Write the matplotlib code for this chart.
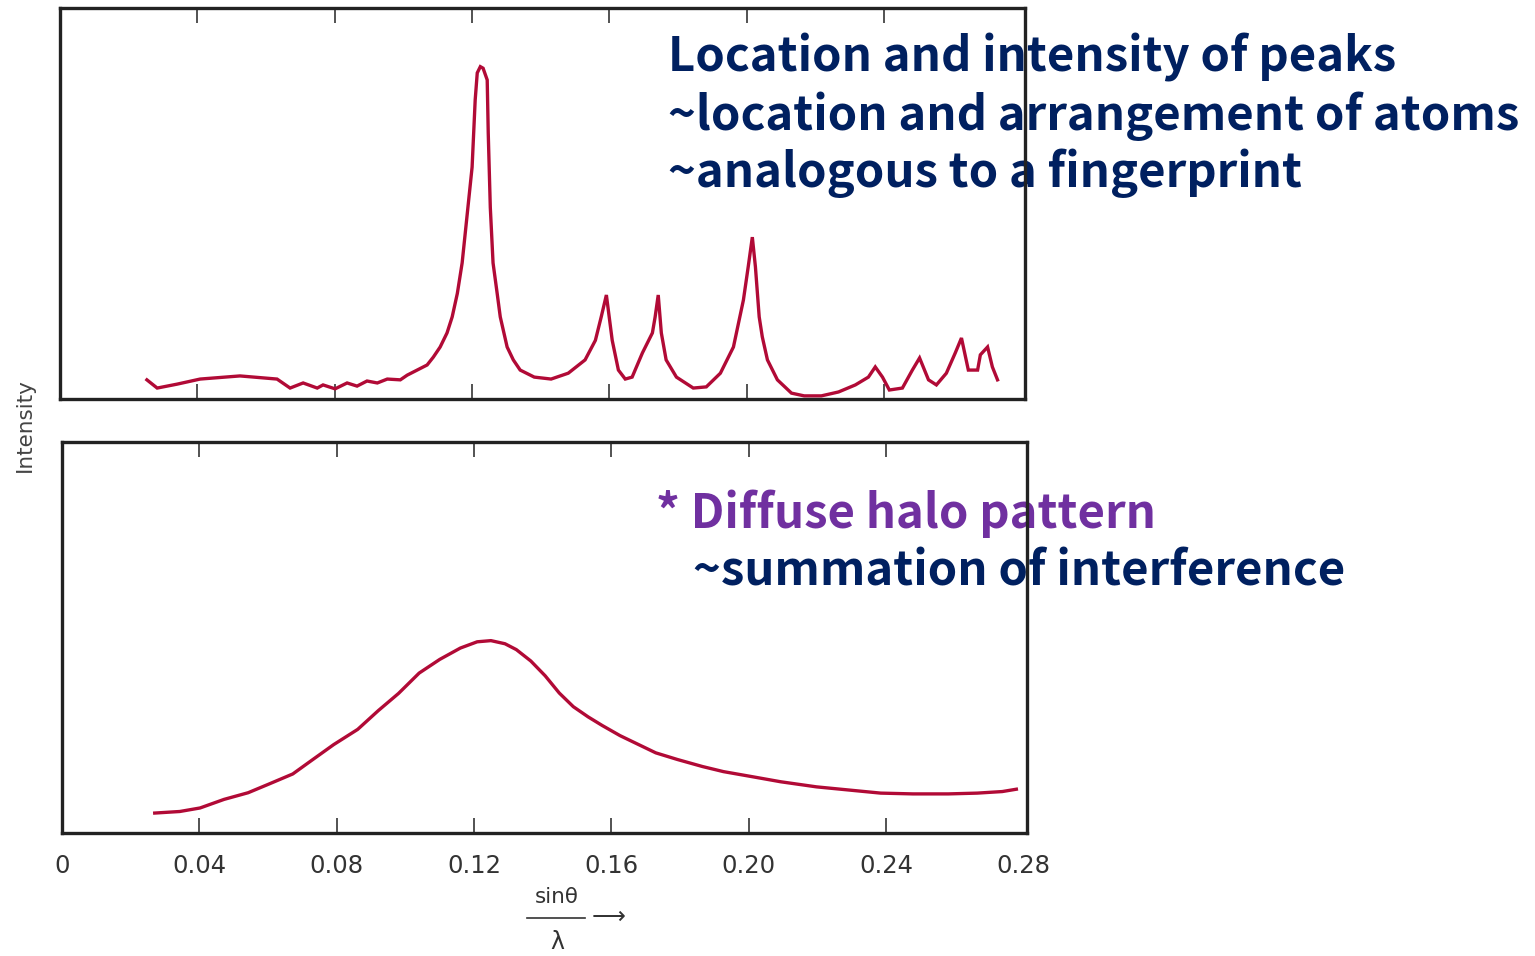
import numpy as np
import matplotlib.pyplot as plt
from matplotlib.lines import Line2D

# crystalline pattern (top panel), sin(theta)/lambda vs relative intensity
xtal_x = [0.0253, 0.0283, 0.0341, 0.0408, 0.0524, 0.0632, 0.0670, 0.0708, 0.0749, 0.0766,
          0.0801, 0.0836, 0.0865, 0.0894, 0.0924, 0.0953, 0.0991, 0.1011, 0.1040, 0.1069,
          0.1087, 0.1107, 0.1127, 0.1142, 0.1157, 0.1171, 0.1180, 0.1189, 0.1200, 0.1209,
          0.1215, 0.1224, 0.1232, 0.1244, 0.1247, 0.1253, 0.1261, 0.1273, 0.1282, 0.1302,
          0.1320, 0.1340, 0.1381, 0.1430, 0.1480, 0.1529, 0.1559, 0.1576, 0.1591, 0.1608,
          0.1626, 0.1646, 0.1666, 0.1696, 0.1725, 0.1733, 0.1742, 0.1751, 0.1765, 0.1795,
          0.1844, 0.1882, 0.1923, 0.1961, 0.1990, 0.2004, 0.2016, 0.2025, 0.2036, 0.2045,
          0.2060, 0.2089, 0.2130, 0.2167, 0.2217, 0.2267, 0.2316, 0.2354, 0.2374, 0.2395,
          0.2415, 0.2453, 0.2482, 0.2503, 0.2529, 0.2552, 0.2581, 0.2607, 0.2625, 0.2645,
          0.2672, 0.2680, 0.2701, 0.2715, 0.2730]
xtal_y = [4.9, 2.8, 3.8, 5.1, 5.9, 5.1, 2.8, 4.1, 2.8, 3.6,
          2.6, 4.1, 3.3, 4.6, 4.1, 5.1, 4.9, 6.1, 7.4, 8.7,
          10.7, 13.3, 16.9, 21.0, 27.0, 34.8, 42.4, 50.0, 59.3, 76.5,
          83.4, 85.0, 84.6, 81.6, 68.0, 49.0, 34.8, 27.0, 21.0, 13.3,
          10.0, 7.4, 5.6, 5.1, 6.6, 10.0, 15.0, 21.0, 26.6, 15.0,
          7.4, 5.1, 5.6, 11.8, 16.9, 21.0, 26.6, 16.9, 10.0, 5.6,
          2.8, 3.1, 6.6, 13.3, 25.3, 33.8, 41.4, 33.8, 21.0, 15.9,
          10.0, 4.9, 1.5, 0.8, 0.8, 1.8, 3.6, 5.6, 8.2, 5.6,
          2.3, 2.8, 7.4, 10.5, 4.9, 3.6, 6.6, 11.8, 15.6, 7.4,
          7.4, 11.3, 13.3, 8.2, 4.9]

# amorphous halo (bottom panel)
halo_x = [0.0270, 0.0343, 0.0402, 0.0472, 0.0542, 0.0602, 0.0672, 0.0721, 0.0791, 0.0861,
          0.0921, 0.0980, 0.1040, 0.1100, 0.1160, 0.1209, 0.1249, 0.1290, 0.1323, 0.1365,
          0.1407, 0.1448, 0.1489, 0.1532, 0.1573, 0.1625, 0.1677, 0.1729, 0.1792, 0.1865,
          0.1926, 0.2010, 0.2093, 0.2197, 0.2302, 0.2384, 0.2478, 0.2581, 0.2665, 0.2738,
          0.2779]
halo_y = [5.1, 5.5, 6.4, 8.6, 10.3, 12.5, 15.1, 18.2, 22.6, 26.5,
          31.3, 35.7, 40.9, 44.4, 47.3, 48.9, 49.2, 48.4, 46.9, 44.0,
          40.2, 35.8, 32.3, 29.7, 27.5, 24.9, 22.7, 20.5, 18.8, 17.0,
          15.7, 14.4, 13.1, 11.8, 10.9, 10.2, 10.0, 10.0, 10.2, 10.6,
          11.2]

tick_pos = [0, 0.04, 0.08, 0.12, 0.16, 0.20, 0.24, 0.28]
tick_lab = ["0", "0.04", "0.08", "0.12", "0.16", "0.20", "0.24", "0.28"]
mark_pos = [0.04, 0.08, 0.12, 0.16, 0.20, 0.24]

W, H = 1535, 956
fig = plt.figure(figsize=(W / 100, H / 100), dpi=100)


def px_axes(left, top, right, bottom):
    return fig.add_axes([left / W, 1 - bottom / H, (right - left) / W, (bottom - top) / H])


line_col = "#b10a36"
ax1 = px_axes(60, 8, 1025, 399)
ax2 = px_axes(62, 442, 1027, 833)
ax1.plot(xtal_x, xtal_y, color=line_col, lw=2.4, solid_joinstyle="miter")
ax2.plot(halo_x, halo_y, color=line_col, lw=2.4)

for ax in (ax1, ax2):
    ax.set_xlim(0, 0.281)
    ax.set_ylim(0, 100)
    ax.set_yticks([])
    for s in ax.spines.values():
        s.set_linewidth(2.4)
        s.set_color("#222222")
        s.set_zorder(5)
    ax.xaxis.remove_overlapping_locs = False
    ax.set_xticks(tick_pos)
    ax.set_xticks(mark_pos, minor=True)
    ax.tick_params(axis="x", which="major", length=0, labelsize=17.5,
                   labelcolor="#333333", pad=15)
    ax.tick_params(axis="x", which="minor", direction="in", length=11,
                   width=1.3, color="#444444", top=True, bottom=True)
ax1.set_xticklabels([])
ax2.set_xticklabels(tick_lab)

# y label and the fraction-style x label
fig.text(25 / W, 1 - 425 / H, "Intensity", rotation=90, ha="center", va="center",
         fontsize=15.5, color="#444444")
fig.text(557 / W, 1 - 897 / H, "sin\u03b8", ha="center", va="center", fontsize=15.5, color="#333333")
fig.text(557 / W, 1 - 942 / H, "\u03bb", ha="center", va="center", fontsize=17, color="#333333")
fig.add_artist(Line2D([527 / W, 585 / W], [1 - 918 / H, 1 - 918 / H], color="#333333", lw=1.2))
fig.text(609 / W, 1 - 917 / H, "\u27f6", ha="center", va="center", fontsize=17, color="#333333")

navy = "#002060"
purple = "#7030a0"
big = dict(fontsize=34, fontweight="bold", family=["Noto Sans CJK KR", "DejaVu Sans"],
           transform=fig.transFigure, clip_on=False, zorder=2, va="baseline")
ax1.text(668 / W, 1 - 72 / H, "Location and intensity of peaks", color=navy, **big)
ax1.text(668 / W, 1 - 130 / H, "~location and arrangement of atoms", color=navy, **big)
ax1.text(668 / W, 1 - 187 / H, "~analogous to a fingerprint", color=navy, **big)
ax2.text(656 / W, 1 - 528 / H, "* Diffuse halo pattern", color=purple, **big)
ax2.text(693 / W, 1 - 585 / H, "~summation of interference", color=navy, **big)

fig.savefig("out.png", dpi=100)
